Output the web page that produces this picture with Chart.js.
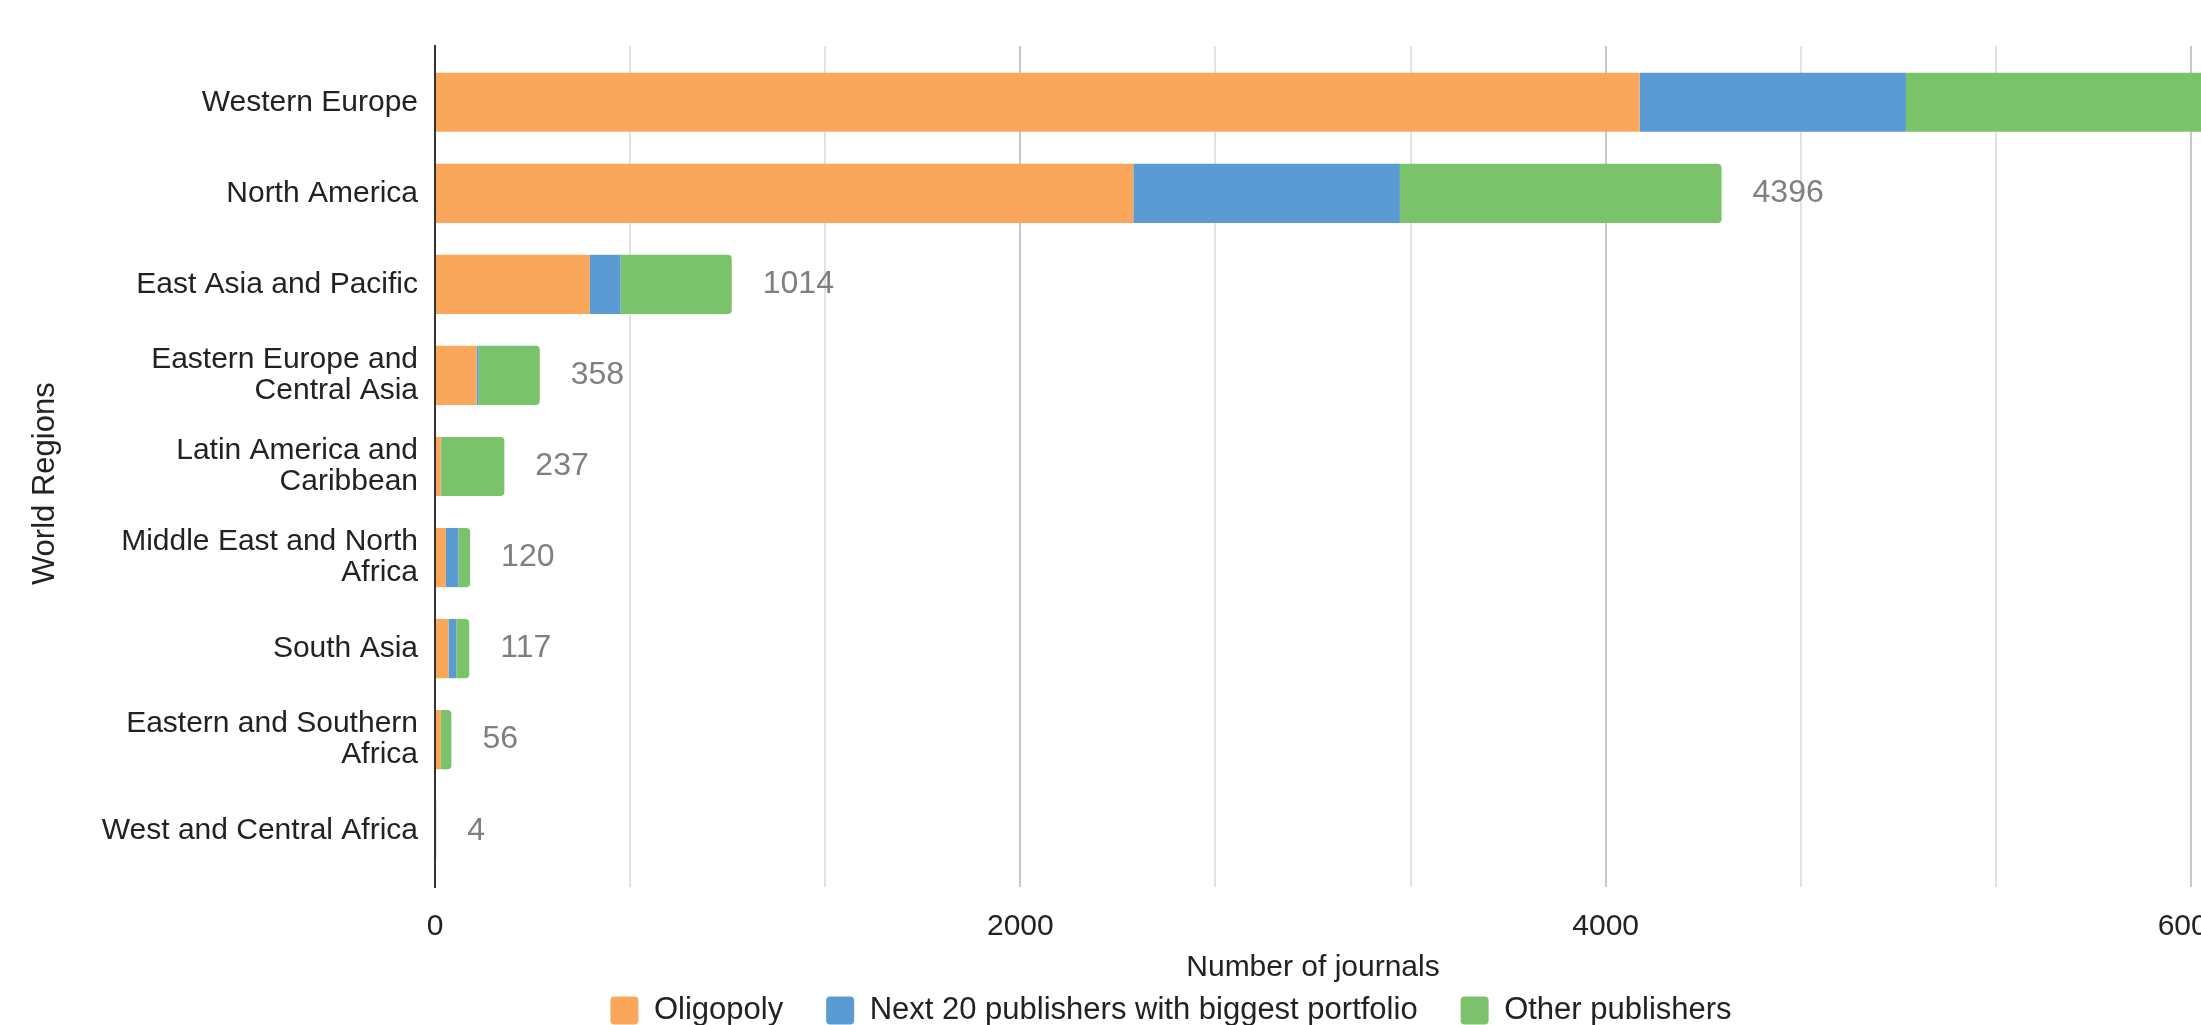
<!DOCTYPE html>
<html>
<head>
<meta charset="utf-8">
<title>Journals by world region</title>
<script src="https://cdn.jsdelivr.net/npm/chart.js@4/dist/chart.umd.min.js"></script>
<style>
html, body { margin: 0; padding: 0; background: #fff; overflow: hidden; }
#wrap { width: 2342px; height: 1025px; }
</style>
</head>
<body>
<div id="wrap"><canvas id="myChart" width="2342" height="1025"></canvas></div>
<script>
var regions = [
    ["Western Europe"],
    ["North America"],
    ["East Asia and Pacific"],
    ["Eastern Europe and", "Central Asia"],
    ["Latin America and", "Caribbean"],
    ["Middle East and North", "Africa"],
    ["South Asia"],
    ["Eastern and Southern", "Africa"],
    ["West and Central Africa"]
];
var oligopoly = [4116, 2386, 529, 142, 20, 37, 46, 20, 0];
var next20 = [910, 911, 105, 7, 1, 43, 27, 0, 4];
var others = [2100, 1099, 380, 209, 216, 40, 44, 36, 0];
var xTicks = [0, 2000, 4000, 6000];

var fontFamily = "'Liberation Sans', Arial, sans-serif";
Chart.defaults.font.family = fontFamily;
Chart.defaults.font.size = 30;
Chart.defaults.color = '#222';

var totals = oligopoly.map(function(v, i) { return v + next20[i] + others[i]; });

// grey totals to the right of each bar
var totalLabels = {
    id: 'totalLabels',
    afterDatasetsDraw: function(chart) {
        var ctx = chart.ctx, xs = chart.scales.x, ys = chart.scales.y;
        ctx.save();
        ctx.font = '32px ' + fontFamily;
        ctx.fillStyle = '#7f7f7f';
        ctx.textAlign = 'left';
        ctx.textBaseline = 'middle';
        totals.forEach(function(t, i) {
            ctx.fillText(t, xs.getPixelForValue(t) + 31, ys.getPixelForValue(i));
        });
        ctx.restore();
    }
};

function renderChart() {
    var ctx = document.getElementById("myChart").getContext('2d');
    var bar = { barPercentage: 0.65, categoryPercentage: 1, borderRadius: 4, clip: false };
    var myChart = new Chart(ctx, {
        type: 'bar',
        data: {
            labels: regions,
            datasets: [
                Object.assign({ label: 'Oligopoly', data: oligopoly, backgroundColor: '#FAA75B' }, bar),
                Object.assign({ label: 'Next 20 publishers with biggest portfolio', data: next20, backgroundColor: '#5A9BD4' }, bar),
                Object.assign({ label: 'Other publishers', data: others, backgroundColor: '#7AC36A' }, bar)
            ]
        },
        options: {
            indexAxis: 'y',
            responsive: false,
            animation: false,
            devicePixelRatio: 1,
            layout: { padding: { top: 46, left: 0, right: 0, bottom: 0 } },
            plugins: {
                tooltip: { enabled: false },
                legend: {
                    position: 'bottom',
                    maxHeight: 73,
                    labels: {
                        boxWidth: 28,
                        boxHeight: 28,
                        useBorderRadius: true,
                        borderRadius: 4,
                        padding: 43,
                        color: '#222',
                        font: { size: 31 }
                    }
                }
            },
            scales: {
                x: {
                    stacked: true,
                    min: 0,
                    max: 6000,
                    border: { display: false },
                    grid: {
                        drawTicks: false,
                        lineWidth: 2,
                        color: function(c) {
                            if (!c.tick) return '#e2e2e2';
                            var r = Math.round(c.tick.value);
                            if (r === 0) return '#333';
                            return xTicks.indexOf(r) >= 0 ? '#c8c8c8' : '#e2e2e2';
                        }
                    },
                    ticks: {
                        stepSize: 2000 / 3,
                        autoSkip: false,
                        maxRotation: 0,
                        padding: 22,
                        color: '#222',
                        callback: function(v) {
                            var r = Math.round(v);
                            return xTicks.indexOf(r) >= 0 ? r : '';
                        }
                    },
                    title: {
                        display: true,
                        text: 'Number of journals',
                        color: '#222',
                        font: { size: 30 },
                        padding: { top: 0, bottom: -34 }
                    },
                    afterFit: function(s) { s.height = 65; }
                },
                y: {
                    stacked: true,
                    grid: { display: false, drawTicks: false },
                    border: { display: true, color: '#333', width: 2 },
                    ticks: { padding: 17, color: '#222', font: { size: 30, lineHeight: 1.03 } },
                    title: {
                        display: true,
                        // trailing spaces nudge the rotated title a bit lower
                        text: 'World Regions    ',
                        color: '#222',
                        font: { size: 31 },
                        padding: { top: 27, bottom: 0 }
                    },
                    afterFit: function(s) { s.width = 435; },
                    // a little extra room above the first and below the last band
                    afterBuildTicks: function(s) {
                        if (typeof s._startValue === 'number') {
                            s._startValue -= 0.118;
                            s._valueRange += 0.236;
                        }
                    }
                },
                // empty right-hand axis, keeps the plot narrower than the canvas
                yRight: {
                    axis: 'y',
                    position: 'right',
                    grid: { display: false, drawTicks: false },
                    border: { display: false },
                    ticks: { display: false },
                    afterFit: function(s) { s.width = 151; }
                }
            }
        },
        plugins: [totalLabels]
    });
}

renderChart();
</script>
</body>
</html>
